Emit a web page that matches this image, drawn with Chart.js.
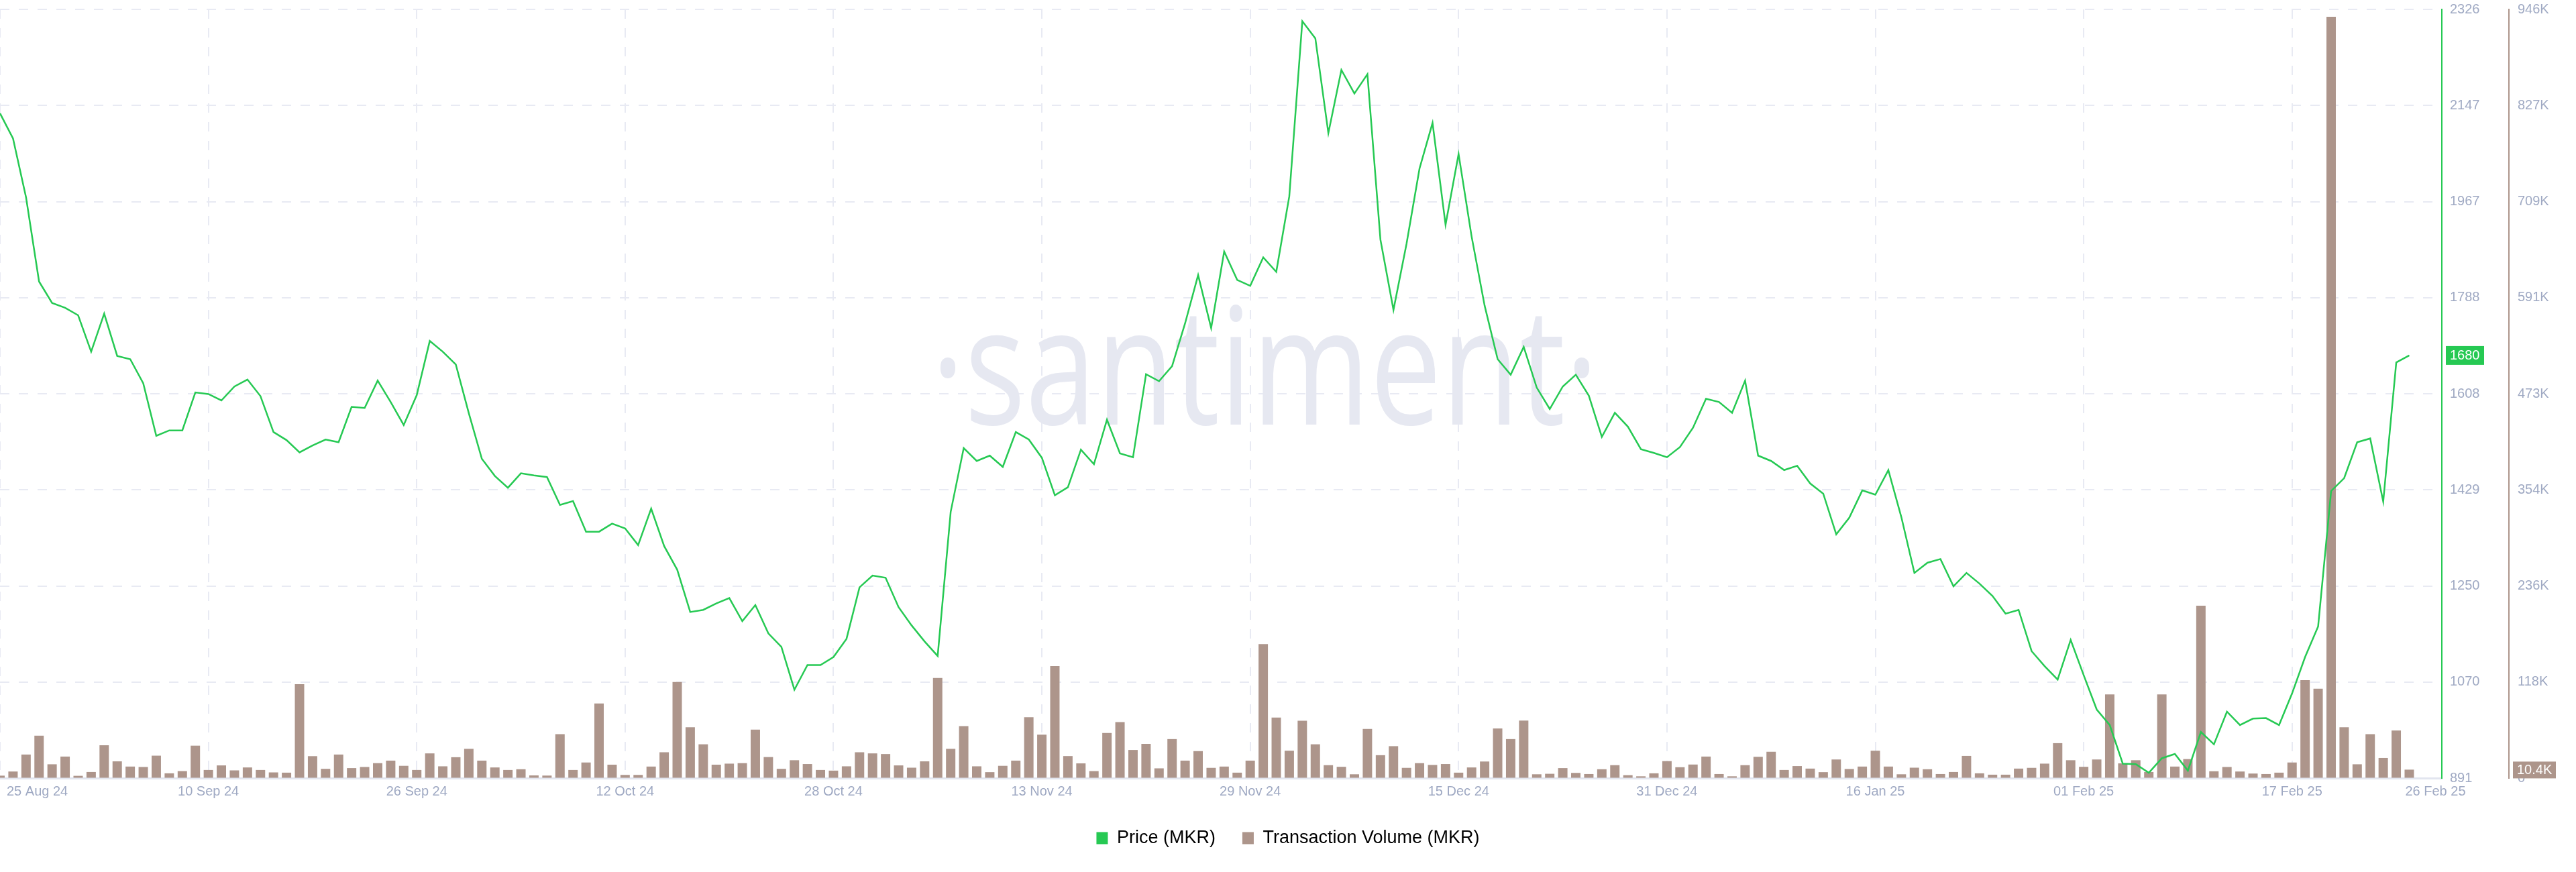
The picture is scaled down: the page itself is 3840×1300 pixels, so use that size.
<!DOCTYPE html>
<html>
<head>
<meta charset="utf-8">
<title>MKR price and transaction volume</title>
<script src="https://cdn.jsdelivr.net/npm/chart.js@4.4.0/dist/chart.umd.min.js"></script>
<style>
  html, body { margin: 0; padding: 0; background: #fff; }
  #wrap { width: 3840px; height: 1300px; position: relative; }
</style>
</head>
<body>
<div id="wrap"><canvas id="chart"></canvas></div>
<script>
// x values are days counted from 25 Aug 24 (0) to 26 Feb 25 (185)
const tickDays = [0, 16, 32, 48, 64, 80, 96, 112, 128, 144, 160, 176, 185];
const tickLabels = ['25 Aug 24', '10 Sep 24', '26 Sep 24', '12 Oct 24', '28 Oct 24', '13 Nov 24',
  '29 Nov 24', '15 Dec 24', '31 Dec 24', '16 Jan 25', '01 Feb 25', '17 Feb 25', '26 Feb 25'];

const priceTicks = ['891', '1070', '1250', '1429', '1608', '1788', '1967', '2147', '2326'];
const volumeTicks = ['0', '118K', '236K', '354K', '473K', '591K', '709K', '827K', '946K'];

// Price (MKR), USD, one value per day
const priceMKR = [
  2132, 2085, 1975, 1818, 1778, 1769, 1755, 1687, 1758, 1679,
  1673, 1628, 1530, 1540, 1540, 1611, 1608, 1596, 1622, 1635,
  1604, 1537, 1522, 1499, 1512, 1523, 1518, 1584, 1582, 1633,
  1593, 1550, 1606, 1707, 1687, 1663, 1572, 1487, 1455, 1433,
  1460, 1456, 1453, 1401, 1408, 1351, 1351, 1366, 1357, 1326,
  1394, 1324, 1280, 1201, 1205, 1217, 1227, 1184, 1214, 1161,
  1136, 1056, 1102, 1102, 1117, 1151, 1247, 1269, 1265, 1210,
  1176, 1146, 1119, 1388, 1507, 1483, 1493, 1472, 1537, 1523,
  1489, 1419, 1434, 1504, 1477, 1560, 1497, 1490, 1645, 1632,
  1660, 1740, 1830, 1731, 1874, 1821, 1810, 1863, 1836, 1977,
  2304, 2272, 2095, 2213, 2169, 2205, 1896, 1765, 1888, 2029,
  2114, 1924, 2056, 1902, 1773, 1673, 1644, 1696, 1620, 1580,
  1622, 1644, 1605, 1528, 1573, 1547, 1505, 1498, 1490, 1509,
  1545, 1599, 1593, 1573, 1633, 1493, 1483, 1466, 1474, 1441,
  1422, 1346, 1377, 1428, 1420, 1466, 1378, 1274, 1293, 1300,
  1249, 1274, 1254, 1231, 1198, 1205, 1128, 1100, 1075, 1149,
  1083, 1019, 990, 918, 917, 901, 928, 936, 905, 977,
  954, 1015, 990, 1002, 1003, 990, 1049, 1117, 1174, 1427,
  1451, 1518, 1525, 1407, 1667, 1680
];

// Transaction Volume (MKR), thousands, one value per day
const volumeMKR = [
  3, 8.1, 29, 52.2, 17, 26.5, 2.8, 7.5, 40.4, 20.6,
  14.2, 13.7, 27.6, 5.9, 8.6, 39.9, 10, 15.6, 9.5, 13.1,
  10, 7, 6.7, 115.5, 27, 11.4, 29, 12.3, 13.7, 18.4,
  21.5, 15.1, 10, 30.4, 14.5, 25.7, 36, 21.5, 13.1, 10,
  10.9, 3.3, 3.1, 54.1, 10, 19.2, 91.8, 16.5, 3.9, 3.9,
  14.2, 31.8, 118.3, 62.5, 41.6, 16.5, 17.8, 18.4, 59.7, 25.9,
  11.4, 22, 17.3, 10, 9.2, 14.5, 31.8, 30.4, 29.6, 15.6,
  12.8, 20.6, 123.3, 36, 63.9, 14.5, 7.3, 15.1, 21.5, 75,
  53.5, 137.8, 27.1, 18.1, 8.6, 55.5, 68.9, 34.6, 42.1, 12,
  48, 21.5, 33.2, 12.6, 14.2, 6.7, 21.5, 164.8, 74.5, 33.7,
  70.6, 41.6, 15.9, 13.9, 4.7, 60.5, 28.2, 39.3, 12.6, 18.4,
  16.2, 17.3, 6.7, 13.1, 20.4, 61.1, 48, 70.8, 4.7, 5.3,
  12.3, 6.4, 5, 10.9, 15.9, 3.6, 2.2, 5.9, 20.9, 13.4,
  16.7, 26.5, 5, 2.2, 15.9, 26.2, 32.4, 10, 14.8, 11.7,
  7.3, 22.9, 11.2, 14.2, 33.7, 14.2, 4.7, 12.8, 10.9, 5,
  7.5, 27.3, 5.9, 4.2, 4.2, 11.7, 12.6, 17.8, 43, 22,
  13.9, 22.9, 102.9, 18.1, 22, 7.5, 102.9, 14.2, 23.4, 212.2,
  8.4, 13.7, 8.1, 5.6, 5, 6.7, 19.2, 120.5, 109.9, 937,
  62.5, 17, 54.1, 24.8, 58.6, 10.4
];

const GREEN = '#26c953';
const BROWN = '#ad958b';
const TICK = '#9fa9c3';
const GRID = '#e8eaf3';
const FONT = '"Liberation Sans", Arial, sans-serif';

const priceMin = 891, priceMax = 2326;
const volMax = 946;

// right axes: fixed width, no extra room for the end labels
const fitRightAxis = s => {
  s.width = 100;
  s.paddingTop = 0;
  s.paddingBottom = 0;
};

// watermark, x axis labels and the last value badges
const decor = {
  id: 'decor',
  beforeDatasetsDraw(chart) {
    const { ctx, chartArea } = chart;
    ctx.save();
    ctx.fillStyle = '#e6e8f1';
    ctx.font = '190px "Open Sans", sans-serif';
    ctx.textAlign = 'center';
    ctx.textBaseline = 'alphabetic';
    ctx.translate(chartArea.left + chartArea.width * 0.518, chartArea.top + chartArea.height * 0.54);
    ctx.scale(1, 1.28);
    ctx.fillText('\u00b7santiment\u00b7', 0, 0);
    ctx.restore();
  },
  afterDraw(chart) {
    const { ctx, chartArea } = chart;
    const xs = chart.scales.x;
    ctx.save();
    ctx.font = '20px ' + FONT;
    ctx.fillStyle = TICK;
    ctx.textBaseline = 'middle';
    tickDays.forEach((d, i) => {
      let x = xs.getPixelForValue(d);
      let align = 'center';
      if (i === 0) { align = 'left'; x += 10; }
      if (i === tickDays.length - 1) { align = 'left'; x -= 6; }
      ctx.textAlign = align;
      ctx.fillText(tickLabels[i], x, chartArea.bottom + 20);
    });

    // last price badge
    const ys = chart.scales.y;
    const lastP = priceMKR[priceMKR.length - 1];
    const py = ys.getPixelForValue(lastP);
    ctx.fillStyle = GREEN;
    ctx.fillRect(ys.left + 6, py - 14, 57, 28);
    ctx.fillStyle = '#fff';
    ctx.textAlign = 'left';
    ctx.fillText(String(lastP), ys.left + 12, py + 1);

    // last volume badge
    const vs = chart.scales.y1;
    const lastV = volumeMKR[volumeMKR.length - 1];
    const vy = Math.min(vs.getPixelForValue(lastV) - 12, chartArea.bottom - 21);
    ctx.fillStyle = BROWN;
    ctx.fillRect(vs.left + 6, vy, 64, 25);
    ctx.fillStyle = '#fff';
    ctx.fillText(lastV.toFixed(1) + 'K', vs.left + 12, vy + 13);
    ctx.restore();
  }
};

new Chart(document.getElementById('chart'), {
  type: 'bar',
  data: {
    datasets: [
      {
        type: 'line',
        label: 'Price (MKR)',
        data: priceMKR.map((p, i) => ({ x: i, y: p })),
        yAxisID: 'y',
        borderColor: GREEN,
        backgroundColor: GREEN,
        borderWidth: 2.5,
        pointRadius: 0,
        tension: 0,
        order: 0
      },
      {
        type: 'bar',
        label: 'Transaction Volume (MKR)',
        data: volumeMKR.map((v, i) => ({ x: i, y: v })),
        yAxisID: 'y1',
        backgroundColor: BROWN,
        borderWidth: 0,
        barPercentage: 0.72,
        categoryPercentage: 1,
        order: 1
      }
    ]
  },
  options: {
    responsive: true,
    maintainAspectRatio: false,
    devicePixelRatio: 1,
    animation: false,
    events: [],
    layout: { padding: { top: 14, bottom: 27, left: 0, right: 0 } },
    scales: {
      x: {
        type: 'linear',
        min: 0,
        max: 187.5,
        offset: false,
        afterBuildTicks: s => { s.ticks = tickDays.map(v => ({ value: v })); },
        afterFit: s => { s.height = 36; },
        ticks: { display: false },
        grid: {
          offset: false,
          drawTicks: false,
          lineWidth: 2,
          color: c => (c.tick && c.tick.value === 185 ? 'rgba(0,0,0,0)' : GRID)
        },
        border: { color: '#e2e5ef', width: 3, dash: [14, 14] }
      },
      y: {
        type: 'linear',
        position: 'right',
        min: priceMin,
        max: priceMax,
        afterBuildTicks: s => {
          s.ticks = priceTicks.map((t, i) => ({ value: priceMin + i * (priceMax - priceMin) / 8 }));
        },
        afterFit: fitRightAxis,
        ticks: {
          color: TICK,
          font: { family: FONT, size: 20 },
          padding: 12,
          callback: (v, i) => priceTicks[i]
        },
        grid: { color: GRID, lineWidth: 2, drawTicks: false },
        border: { color: GREEN, width: 2, dash: [14, 14] }
      },
      y1: {
        type: 'linear',
        position: 'right',
        min: 0,
        max: volMax,
        afterBuildTicks: s => {
          s.ticks = volumeTicks.map((t, i) => ({ value: i * volMax / 8 }));
        },
        afterFit: fitRightAxis,
        ticks: {
          color: TICK,
          font: { family: FONT, size: 20 },
          padding: 13,
          callback: (v, i) => volumeTicks[i]
        },
        grid: { drawOnChartArea: false, drawTicks: false },
        border: { color: BROWN, width: 2 }
      }
    },
    plugins: {
      tooltip: { enabled: false },
      legend: {
        position: 'bottom',
        labels: {
          color: '#1d2031',
          font: { family: FONT, size: 27 },
          boxWidth: 17,
          boxHeight: 18,
          padding: 40,
          generateLabels: chart => chart.data.datasets.map((d, i) => ({
            text: d.label,
            fillStyle: i === 0 ? GREEN : BROWN,
            strokeStyle: i === 0 ? GREEN : BROWN,
            lineWidth: 0,
            datasetIndex: i
          }))
        }
      }
    }
  },
  plugins: [decor]
});
</script>
</body>
</html>
